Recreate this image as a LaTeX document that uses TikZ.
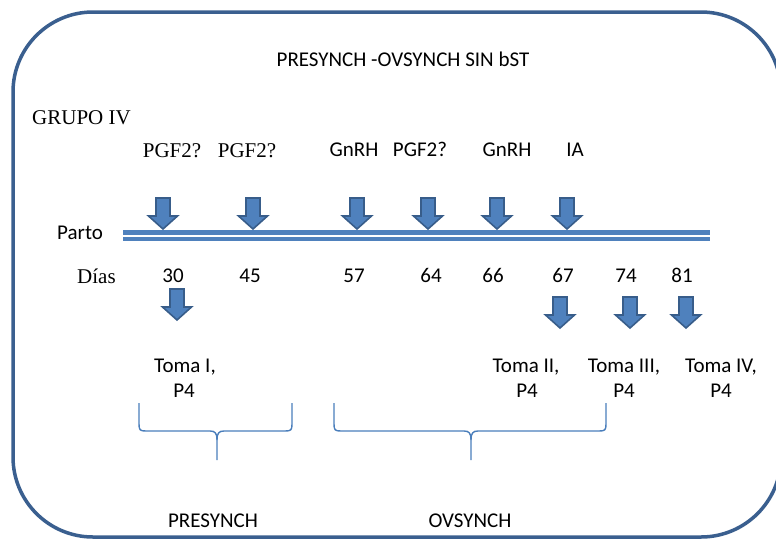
\documentclass[tikz,border=0pt]{standalone}
\usepackage{fontspec}
\setmainfont{Carlito}
\newfontfamily\tnr{Liberation Serif}
\definecolor{framecol}{RGB}{58,95,143}
\definecolor{arrfill}{RGB}{79,129,189}
\definecolor{arrline}{RGB}{56,93,138}
\definecolor{bracecol}{RGB}{74,126,187}
\tikzset{
  framesty/.style={draw=framecol, line width=3.5pt, rounded corners=80pt},
  arrowsty/.style={fill=arrfill, draw=arrline, line width=1.6pt, line join=miter},
  tlsty/.style={draw=arrfill},
  bracesty/.style={draw=bracecol, line width=1.4pt},
  sanslab/.style={font=\fontsize{21}{25}\selectfont, inner sep=0pt, text height=13.5pt, text depth=0pt},
  serlab/.style={font=\tnr\fontsize{21}{25}\selectfont, inner sep=0pt, text height=14pt, text depth=0pt},
  darr/.pic={\draw[arrowsty] (-7,0) -- (7,0) -- (7,18) -- (14.5,18) -- (0,31) -- (-14.5,18) -- (-7,18) -- cycle;}
}
\begin{document}
\begin{tikzpicture}[x=1pt,y=-1pt]
\useasboundingbox (0,0) rectangle (776,539);
\begin{scope}
\clip (0,0) rectangle (776,539);
\draw[framesty] (13,12) rectangle (781,537);
\end{scope}

% title and labels
\node[sanslab] (title) at (403,60) {PRESYNCH -OVSYNCH SIN bST};
\node[serlab, anchor=west] (grupo) at (32,117) {GRUPO IV};

\node[serlab] (pgfa) at (172,150) {PGF2?};
\node[serlab] (pgfb) at (247,150) {PGF2?};
\node[sanslab] (gnrha) at (354,150) {GnRH};
\node[sanslab] (pgfc) at (420,150) {PGF2?};
\node[sanslab] (gnrhb) at (507,150) {GnRH};
\node[sanslab] (ia) at (575,150) {IA};

% timeline
\coordinate (tlA) at (123,232.25);
\coordinate (tlB) at (710,232.25);
\coordinate (tlC) at (123,238.75);
\coordinate (tlD) at (710,238.75);
\draw[tlsty, line width=5.5pt] (tlA) -- (tlB);
\draw[tlsty, line width=3.5pt] (tlC) -- (tlD);

% upper arrows
\pic at (163,198) {darr};
\pic at (253,198) {darr};
\pic at (357,198) {darr};
\pic at (428,198) {darr};
\pic at (497,198) {darr};
\pic at (567,198) {darr};

\node[sanslab, anchor=west] (parto) at (57,233) {Parto};
\node[serlab, anchor=west] (dias) at (77,276) {Días};

% days
\node[sanslab] (d30) at (173,276) {30};
\node[sanslab] (d45) at (250,276) {45};
\node[sanslab] (d57) at (354,276) {57};
\node[sanslab] (d64) at (431,276) {64};
\node[sanslab] (d66) at (493,276) {66};
\node[sanslab] (d67) at (563,276) {67};
\node[sanslab] (d74) at (626,276) {74};
\node[sanslab] (d81) at (682,276) {81};

% lower arrows
\pic at (177,289) {darr};
\pic at (560,297) {darr};
\pic at (630,297) {darr};
\pic at (686,297) {darr};

% sampling labels
\node[sanslab] (tomaI) at (185,366) {Toma I,};
\node[sanslab] (tomaIp) at (184,391) {P4};
\node[sanslab] (tomaII) at (526,366) {Toma II,};
\node[sanslab] (tomaIIp) at (527,391) {P4};
\node[sanslab] (tomaIII) at (624,366) {Toma III,};
\node[sanslab] (tomaIIIp) at (624,391) {P4};
\node[sanslab] (tomaIV) at (721,366) {Toma IV,};
\node[sanslab] (tomaIVp) at (721,391) {P4};

% braces
\draw[bracesty] (139,403) -- (139,424) .. controls (139,430) and (140,431) .. (146,431) -- (210,431) .. controls (215,431) and (217,433) .. (217,440) -- (217,460);
\draw[bracesty] (292,403) -- (292,424) .. controls (292,430) and (291,431) .. (285,431) -- (224,431) .. controls (219,431) and (217,433) .. (217,440);

\draw[bracesty] (334,403) -- (334,424) .. controls (334,430) and (335,431) .. (341,431) -- (464,431) .. controls (469,431) and (471,433) .. (471,440) -- (471,460);
\draw[bracesty] (606,403) -- (606,424) .. controls (606,430) and (605,431) .. (599,431) -- (478,431) .. controls (473,431) and (471,433) .. (471,440);

\node[sanslab] (presynch) at (213,521) {PRESYNCH};
\node[sanslab] (ovsynch) at (470,521) {OVSYNCH};
\end{tikzpicture}
\end{document}
